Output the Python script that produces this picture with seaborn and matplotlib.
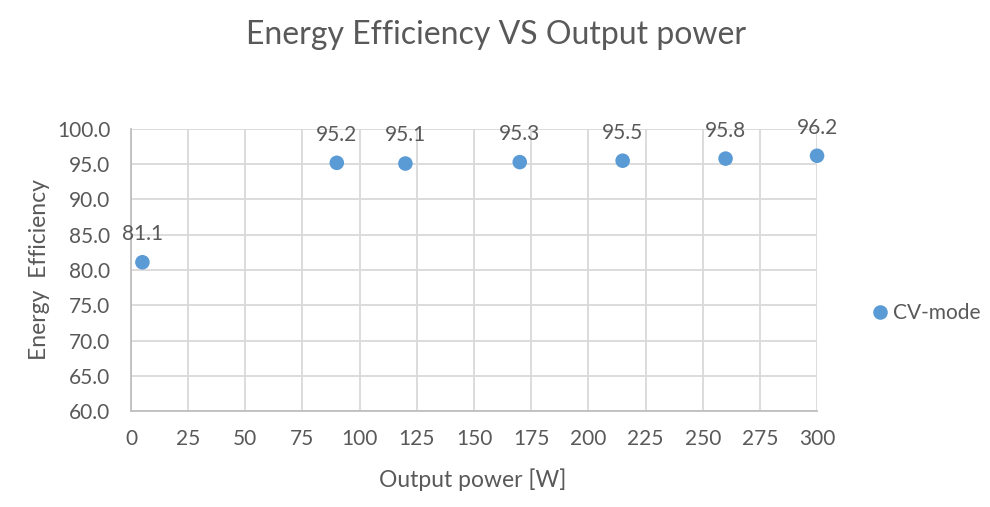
import numpy as np
import pandas as pd
import matplotlib.pyplot as plt
import seaborn as sns

# ===============================
# DATA
# ===============================
output_power = [5, 90, 120, 170, 215, 260, 300]
efficiency = [81.1, 95.2, 95.1, 95.3, 95.5, 95.8, 96.2]
series_name = "CV-mode"

x_ticks = list(range(0, 301, 25))
y_ticks = [60.0, 65.0, 70.0, 75.0, 80.0, 85.0, 90.0, 95.0, 100.0]

TEXT = "#595959"
BLUE = "#5B9BD5"
GRID = "#D9D9D9"
AXIS = "#BFBFBF"

sns.set_style("white")
plt.rcParams["font.family"] = ["Lato", "DejaVu Sans"]

df = pd.DataFrame({"power": output_power, "eff": efficiency, "series": series_name})

fig = plt.figure(figsize=(9.9, 5.07), dpi=100)
ax = fig.add_axes([0.1323, 0.1893, 0.6930, 0.5563])

sns.scatterplot(data=df, x="power", y="eff", hue="series", palette=[BLUE],
                s=110, edgecolor="none", ax=ax, zorder=3, clip_on=False)

for x, y in zip(output_power, efficiency):
    ax.annotate(f"{y:.1f}", (x, y), xytext=(0, 13), textcoords="offset points",
                ha="center", va="bottom", fontsize=15, color=TEXT)

ax.set_xlim(0, 300)
ax.set_ylim(60, 100)
ax.set_xticks(x_ticks)
ax.set_yticks(y_ticks)
ax.set_yticklabels([f"{v:.1f}" for v in y_ticks])
ax.tick_params(axis="y", length=0, labelsize=15, labelcolor=TEXT, pad=15)
ax.tick_params(axis="x", length=0, labelsize=15, labelcolor=TEXT, pad=13)

ax.grid(True, color=GRID, linewidth=1.3)
ax.set_axisbelow(True)
for side in ["top", "right"]:
    ax.spines[side].set_visible(False)
for side in ["left", "bottom"]:
    ax.spines[side].set_color(AXIS)
    ax.spines[side].set_linewidth(1.3)

ax.set_xlabel("Output power [W]", fontsize=16.5, color=TEXT)
ax.set_ylabel("Energy  Efficiency", fontsize=16.5, color=TEXT)
ax.xaxis.set_label_coords(0.4985, -0.205)
ax.yaxis.set_label_coords(-0.118, 0.5)
fig.text(0.501, 0.931, "Energy Efficiency VS Output power", fontsize=23,
         color=TEXT, ha="center", va="center")

leg = ax.legend(loc="center left", bbox_to_anchor=(0.880, 0.383),
                bbox_transform=fig.transFigure, frameon=False,
                fontsize=15, handlelength=0.8, handletextpad=0.25,
                borderaxespad=0, borderpad=0)
for t in leg.get_texts():
    t.set_color(TEXT)

fig.savefig("out.png", dpi=100)
